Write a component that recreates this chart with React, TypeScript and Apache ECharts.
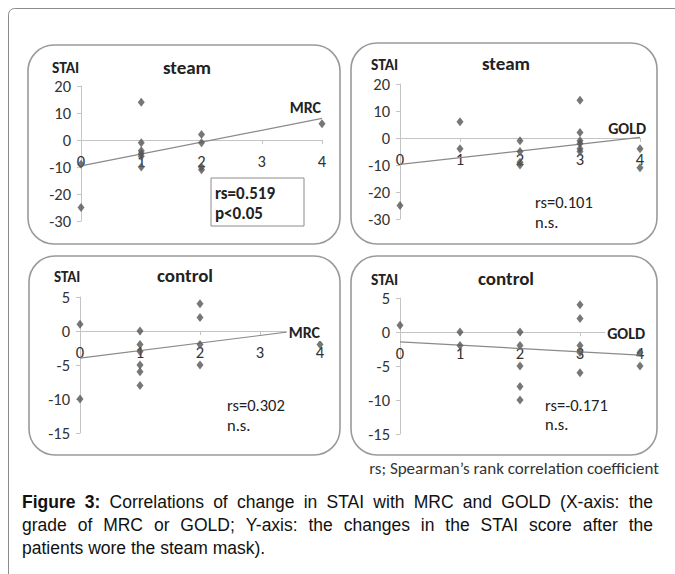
import React, { useEffect, useRef } from "react";
import * as echarts from "echarts";

// ---- data ----
const steamMrcX = [0, 0, 1, 1, 1, 1, 1, 1, 2, 2, 2, 2, 4];
const steamMrcY = [-9, -25, 14, -1, -4, -5, -6, -10, 2, -1, -10, -11, 6];
const steamMrcTrend = [[0, -9.6], [4, 8]];

const steamGoldX = [0, 1, 1, 2, 2, 2, 2, 3, 3, 3, 3, 3, 3, 4, 4];
const steamGoldY = [-25, 6, -4, -1, -5, -9, -10, 14, 2, -1, -2, -4, -5, -4, -11];
const steamGoldTrend = [[0, -9.8], [4, 0.2]];

const controlMrcX = [0, 0, 1, 1, 1, 1, 1, 1, 2, 2, 2, 2, 4];
const controlMrcY = [1, -10, 0, -2, -3, -5, -6, -8, 4, 2, -2, -5, -2];
const controlMrcTrend = [[0, -4], [4, 0.45]];

const controlGoldX = [0, 1, 1, 2, 2, 2, 2, 2, 3, 3, 3, 3, 3, 4, 4];
const controlGoldY = [1, 0, -2, 0, -2, -5, -8, -10, 4, 2, -2, -3, -6, -3, -5];
const controlGoldTrend = [[0, -1.45], [4, -3.4]];

const steamYRange = [-30, 20, 10];
const controlYRange = [-15, 5, 5];
const xRange = [0, 4, 1];

const panelTitles = ["steam", "steam", "control", "control"];
const xAxisNames = ["MRC", "GOLD", "MRC", "GOLD"];
const statLines = [
  ["rs=0.519", "p<0.05"],
  ["rs=0.101", "n.s."],
  ["rs=0.302", "n.s."],
  ["rs=-0.171", "n.s."],
];
const footnote = "rs; Spearman\u2019s rank correlation coefficient";
const captionLines = [
  "Figure 3: Correlations of change in STAI with MRC and GOLD (X-axis: the",
  "grade of MRC or GOLD; Y-axis: the changes in the STAI score after the",
  "patients wore the steam mask).",
];

const CHART_FONT = "Carlito, Lato, sans-serif";
const CAP_FONT = "'Liberation Sans', Arial, sans-serif";

function zip(xs: number[], ys: number[]) {
  return xs.map((x, i) => [x, ys[i]]);
}

function txt(text: string, x: number, y: number, opts: any = {}) {
  const align = opts.align || "left";
  return {
    type: "text",
    z: 100,
    x,
    y,
    style: {
      text,
      fill: opts.fill || "#222",
      fontSize: opts.size || 15,
      fontWeight: opts.bold ? "bold" : "normal",
      fontFamily: opts.family || CHART_FONT,
      align,
      verticalAlign: "middle",
      textAlign: align,
      textVerticalAlign: "middle",
      ...(opts.bg ? { backgroundColor: opts.bg, padding: [1, 2] } : {}),
    },
  };
}

function captionElements(): any[] {
  const size = 17.5;
  const x0 = 22;
  const x1 = 653;
  const ys = [502, 525, 548];
  const canvas = document.createElement("canvas");
  const ctx = canvas.getContext("2d") as CanvasRenderingContext2D;
  const els: any[] = [];
  captionLines.forEach((line, li) => {
    const words = line.split(" ");
    const bolds = words.map((_, wi) => li === 0 && wi < 2);
    const widths = words.map((w, wi) => {
      ctx.font = `${bolds[wi] ? "bold " : ""}${size}px ${CAP_FONT}`;
      return ctx.measureText(w).width;
    });
    const total = widths.reduce((a, b) => a + b, 0);
    const justify = li < captionLines.length - 1;
    ctx.font = `${size}px ${CAP_FONT}`;
    const space = ctx.measureText(" ").width;
    const gap = justify ? (x1 - x0 - total) / (words.length - 1) : space;
    let x = x0;
    words.forEach((w, wi) => {
      els.push(
        txt(w, x, ys[li], { size, bold: bolds[wi], family: CAP_FONT, fill: "#111" })
      );
      x += widths[wi] + gap;
    });
  });
  return els;
}

export default function App() {
  const ref = useRef<HTMLDivElement>(null);
  useEffect(() => {
    if (!ref.current) return;
    const chart = echarts.init(ref.current, undefined, { renderer: "svg" });

    const grids = [
      { left: 81, top: 86, width: 241, height: 135 },
      { left: 400, top: 84, width: 240, height: 135 },
      { left: 80, top: 297, width: 240, height: 136 },
      { left: 400, top: 298, width: 240, height: 136 },
    ];
    const yRanges = [steamYRange, steamYRange, controlYRange, controlYRange];
    const scatterData = [
      zip(steamMrcX, steamMrcY),
      zip(steamGoldX, steamGoldY),
      zip(controlMrcX, controlMrcY),
      zip(controlGoldX, controlGoldY),
    ];
    const trends = [steamMrcTrend, steamGoldTrend, controlMrcTrend, controlGoldTrend];

    const axisColor = "#c4c4c4";
    const xAxes = grids.map((g, i) => {
      const [mn, mx] = yRanges[i];
      // place the horizontal axis on the y = 0 line (Excel style)
      const zeroFromBottom = (g.height * (0 - mn)) / (mx - mn);
      return {
        type: "value",
        gridIndex: i,
        position: "bottom",
        offset: -zeroFromBottom,
        min: xRange[0],
        max: xRange[1],
        interval: xRange[2],
        axisLine: { show: true, onZero: false, lineStyle: { color: axisColor, width: 1 } },
        axisTick: { show: true, length: 4, lineStyle: { color: axisColor } },
        axisLabel: { fontSize: 16.5, color: "#333", margin: 12, fontFamily: CHART_FONT },
        splitLine: { show: false },
      };
    });
    const yAxes = grids.map((_, i) => ({
      type: "value",
      gridIndex: i,
      min: yRanges[i][0],
      max: yRanges[i][1],
      interval: yRanges[i][2],
      axisLine: { show: true, onZero: false, lineStyle: { color: axisColor, width: 1 } },
      axisTick: { show: true, length: 4, lineStyle: { color: axisColor } },
      axisLabel: { fontSize: 16.5, color: "#333", margin: 10, fontFamily: CHART_FONT },
      splitLine: { show: false },
    }));

    const series: any[] = [];
    grids.forEach((_, i) => {
      series.push({
        type: "line",
        xAxisIndex: i,
        yAxisIndex: i,
        data: trends[i],
        symbol: "none",
        lineStyle: { color: "#8a8a8a", width: 1.2 },
        z: 3,
      });
      series.push({
        type: "scatter",
        xAxisIndex: i,
        yAxisIndex: i,
        data: scatterData[i],
        symbol: "diamond",
        symbolSize: [7, 9],
        itemStyle: { color: "#555" },
        z: 4,
      });
    });

    const panelRects = [
      [28, 45, 312, 199],
      [351, 43, 306, 201],
      [29, 256, 311, 199],
      [351, 256, 306, 199],
    ];

    const graphics: any[] = [
      {
        type: "rect",
        z: 0,
        shape: { x: 8.5, y: 8.5, width: 720, height: 620, r: 6 },
        style: { fill: "none", stroke: "#8c8c8c", lineWidth: 1 },
      },
      ...panelRects.map((r) => ({
        type: "rect",
        z: 0,
        shape: { x: r[0], y: r[1], width: r[2], height: r[3], r: 26 },
        style: { fill: "none", stroke: "#9a9a9a", lineWidth: 1.6 },
      })),
      // y axis names
      txt("STAI", 52, 67, { bold: true, size: 15.5 }),
      txt("STAI", 371, 64, { bold: true, size: 15.5 }),
      txt("STAI", 54, 277, { bold: true, size: 15 }),
      txt("STAI", 371, 279, { bold: true, size: 15.5 }),
      // panel titles
      txt(panelTitles[0], 187, 67, { bold: true, size: 19, align: "center" }),
      txt(panelTitles[1], 506, 63, { bold: true, size: 19, align: "center" }),
      txt(panelTitles[2], 185, 275, { bold: true, size: 19, align: "center" }),
      txt(panelTitles[3], 506, 278, { bold: true, size: 19, align: "center" }),
      // x axis names
      txt(xAxisNames[0], 321, 107, { bold: true, size: 16, align: "right" }),
      txt(xAxisNames[1], 646, 128, { bold: true, size: 16, align: "right" }),
      txt(xAxisNames[2], 322, 332, { bold: true, size: 16, align: "right", bg: "#fff" }),
      txt(xAxisNames[3], 647, 333, { bold: true, size: 16, align: "right", bg: "#fff" }),
      // stats box in panel 1
      {
        type: "rect",
        z: 99,
        shape: { x: 211, y: 178, width: 93, height: 48 },
        style: { fill: "#fff", stroke: "#8c8c8c", lineWidth: 1 },
      },
      txt(statLines[0][0], 215, 193, { bold: true, size: 17 }),
      txt(statLines[0][1], 215, 213, { bold: true, size: 17 }),
      txt(statLines[1][0], 535, 202, { size: 16.5 }),
      txt(statLines[1][1], 535, 222, { size: 16.5 }),
      txt(statLines[2][0], 227, 405, { size: 16.5 }),
      txt(statLines[2][1], 227, 425, { size: 16.5 }),
      txt(statLines[3][0], 545, 405, { size: 16.5 }),
      txt(statLines[3][1], 545, 424, { size: 16.5 }),
      // footnote
      txt(footnote, 659, 468, { size: 17, align: "right", fill: "#333" }),
      ...captionElements(),
    ];

    chart.setOption({
      animation: false,
      backgroundColor: "#fff",
      grid: grids,
      xAxis: xAxes,
      yAxis: yAxes,
      series,
      graphic: { elements: graphics },
    });
    return () => chart.dispose();
  }, []);

  return (
    <div
      ref={ref}
      style={{ position: "absolute", left: 0, top: 0, width: 675, height: 574 }}
    />
  );
}
